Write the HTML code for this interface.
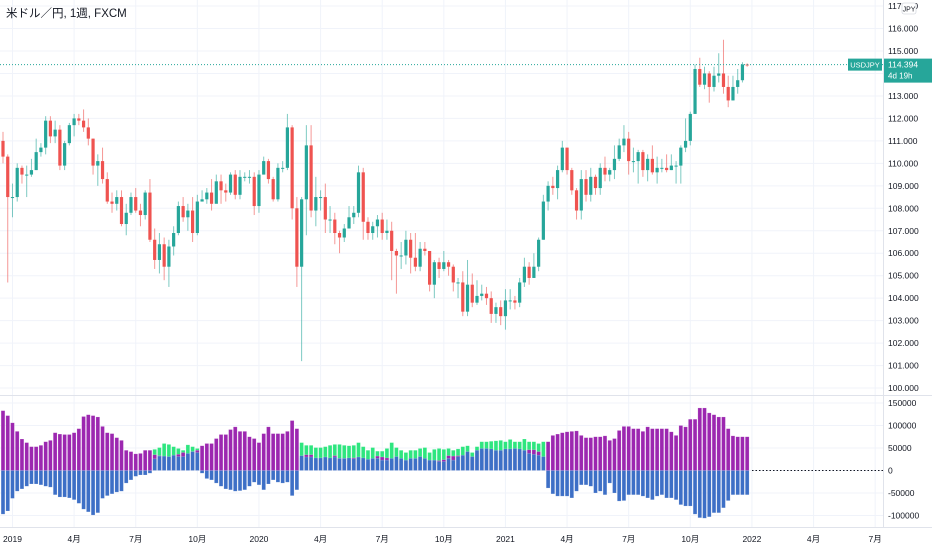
<!DOCTYPE html>
<html><head><meta charset="utf-8">
<style>
html,body{margin:0;padding:0;background:#fff;}
svg{display:block;font-family:"Liberation Sans","Noto Sans CJK JP",sans-serif;}
</style></head>
<body>
<svg id="chart" width="932" height="550" viewBox="0 0 932 550" xmlns="http://www.w3.org/2000/svg">
<rect width="932" height="550" fill="#fff"/>
<g id="grid"></g>
<g id="candles"></g>
<g id="hist"></g>
<g id="axes"></g>
<text x="6" y="17" font-size="11.5" fill="#131722">米ドル／円, 1週, FXCM</text>
</svg>
<script>
// ---- data ----
const firstOpen = 111.0;
const closes = [110.3,
108.5,108.5,109.8,109.5,109.5,109.7,110.5,110.7,111.9,111.2,111.5,109.9,110.9,111.7,112.0,111.9,111.6,111.1,109.9,110.1,109.3,108.3,108.2,108.5,107.3,107.8,108.5,107.9,107.7,108.7,106.6,105.7,106.4,105.4,106.3,106.9,108.1,107.6,107.9,106.9,108.3,108.4,108.7,108.2,109.2,108.8,108.7,109.5,108.6,109.4,109.4,109.4,108.1,
109.5,110.1,109.3,108.4,109.8,109.8,111.6,108.0,105.4,108.4,110.8,107.9,108.5,108.5,107.5,107.5,106.9,106.7,107.1,107.6,107.8,109.6,107.4,106.9,107.2,107.5,106.9,107.0,106.1,105.9,105.9,106.6,105.8,105.4,106.2,106.1,104.6,105.6,105.3,105.6,105.4,104.7,104.7,103.4,104.6,103.8,104.1,104.2,104.0,103.3,103.6,103.2,
103.9,103.9,103.8,104.7,105.4,104.9,105.4,106.6,108.3,109.0,108.9,109.7,110.7,109.7,108.8,107.9,109.3,108.6,109.4,108.9,109.8,109.5,109.7,110.2,110.8,111.1,110.1,110.1,110.5,109.7,110.2,109.6,109.8,109.8,109.7,109.9,109.9,110.7,111.0,112.2,114.2,113.5,114.0,113.4,113.9,114.0,113.4,112.8,113.4,113.7,114.4,114.39];
const highs = [111.4,
110.4,109.1,110.0,109.9,109.9,110.2,111.1,110.9,112.1,112.1,111.9,111.7,111.0,111.8,112.2,112.2,112.4,112.0,111.1,110.4,110.7,109.6,108.7,108.8,108.8,108.2,108.7,108.9,108.2,108.8,109.3,107.1,106.9,106.7,106.6,107.2,108.3,108.5,108.2,108.5,108.6,108.8,108.9,109.3,109.5,109.5,109.1,109.6,109.7,109.7,109.6,109.7,109.6,
109.7,110.3,110.2,109.4,110.0,110.1,112.2,111.7,108.5,108.5,111.7,111.7,109.4,108.8,109.1,108.1,107.8,107.0,107.3,108.1,108.1,109.9,109.8,107.6,107.4,107.7,107.8,107.5,107.4,106.2,106.5,107.0,106.9,106.9,106.5,106.5,106.1,105.7,105.8,106.1,105.7,105.5,104.9,105.2,105.7,105.1,104.8,104.6,104.5,104.3,103.8,103.9,
104.4,104.4,104.1,104.9,105.8,105.6,106.0,106.7,108.6,109.2,109.4,109.9,111.0,110.7,109.8,108.9,109.7,109.7,109.8,109.5,110.0,110.3,109.8,110.8,111.1,111.7,111.4,110.7,110.6,110.6,110.4,110.8,110.3,110.2,110.4,110.4,110.1,110.8,112.0,112.3,114.4,114.7,114.3,114.1,114.3,114.9,115.5,113.9,113.9,114.2,114.5,114.45];
const lows = [110.0,
104.7,107.6,108.3,109.1,108.5,109.4,109.7,110.3,110.4,110.9,110.9,109.7,109.7,110.8,111.2,111.7,111.4,110.8,109.5,109.0,109.1,108.2,107.8,107.9,107.2,106.8,107.7,107.8,107.2,107.5,106.5,105.3,105.1,104.8,104.5,105.9,106.8,107.4,107.0,106.5,106.8,108.3,108.2,107.9,108.3,108.2,108.3,108.6,108.4,108.4,109.2,109.1,107.7,
107.8,109.5,109.1,108.3,108.3,109.6,109.7,107.5,104.5,101.2,106.8,107.6,107.2,107.9,106.9,106.9,106.4,106.0,106.5,107.1,107.3,107.6,106.6,106.6,106.6,106.7,106.6,106.6,104.8,104.2,105.3,105.5,105.1,105.2,105.2,105.9,104.3,104.0,104.9,105.2,105.0,104.3,104.0,103.2,103.2,103.6,103.7,103.9,103.7,102.9,102.9,102.8,
102.6,103.5,103.5,103.6,104.5,104.6,104.9,105.2,106.6,107.9,108.6,108.4,109.6,109.5,108.6,107.5,107.5,108.3,108.3,108.6,108.6,109.2,109.2,109.3,110.1,110.5,109.5,109.6,109.1,109.4,109.2,109.5,109.1,109.6,109.6,109.7,109.1,109.1,110.5,110.8,112.2,113.4,113.3,112.7,113.2,113.6,113.1,112.5,112.8,113.1,113.6,114.3];
// histogram series (thousands)
const purpleVals = [133,122,106,87,70,62,53,53,56,64,67,84,81,80,80,84,93,120,124,122,119,98,84,82,73,67,45,42,37,38,45,45,
35,33,30,30,28,36,40,35,42,45,
55,60,60,71,80,80,91,97,87,87,75,71,62,82,97,82,82,82,87,111,93,
28,35,35,25,25,25,23,33,27,27,25,28,28,23,20,
24,32,30,28,22,26,22,20,22,22,26,22,20,20,22,24,33,32,33,30,37,26,40,44,44,43,40,40,43,43,44,43,42,46,46,42,30,
64,78,81,84,86,87,88,78,73,73,75,75,77,67,71,89,98,98,93,93,87,97,93,93,93,93,86,78,100,97,114,114,139,139,128,124,119,119,93,77,75,75,75];
const blueVals = [-97,-90,-62,-46,-41,-35,-30,-30,-32,-35,-37,-54,-59,-59,-61,-65,-73,-86,-92,-99,-94,-62,-56,-52,-48,-46,-28,-21,-13,-10,-10,-6,
26,32,32,31,34,31,31,38,42,40,
-6,-18,-21,-28,-35,-41,-43,-46,-45,-43,-35,-26,-32,-43,-30,-21,-26,-28,-26,-56,-43,
33,30,30,28,28,30,28,30,27,27,28,26,30,28,25,
27,27,23,23,27,31,27,23,27,27,31,27,23,23,20,20,27,23,31,34,42,31,45,49,49,48,45,45,48,48,49,48,45,38,36,34,31,
-39,-52,-57,-57,-57,-61,-46,-32,-32,-35,-50,-46,-54,-28,-50,-68,-67,-54,-54,-54,-57,-61,-65,-57,-54,-61,-61,-65,-76,-79,-79,-97,-105,-106,-103,-94,-94,-83,-67,-54,-54,-54,-54];
const greenVals = (function(){return null;})();
const greenA = [47,51,60,58,53,49,45,57,53,49];            // weeks 32-41
const greenB = [62,56,56,51,51,53,56,58,58,56,55,56,62,53,45, // weeks 63-77
51,43,43,49,62,51,45,40,45,45,49,51,40,47,49,47,49,45,48,53,55,40,53,64,64,65,66,67,64,69,64,64,70,64,64,60,64]; // 78-114
const priceTicks = [117,116,115,114,113,112,111,110,109,108,107,106,105,104,103,102,101,100];
const histTicks = [150000,100000,50000,0,-50000,-100000];
const timeLabels = ["2019","4月","7月","10月","2020","4月","7月","10月","2021","4月","7月","10月","2022","4月","7月"];
const timeWeeks = [2,15,28,41,54,67,80,93,106,119,132,145,158,171,184];
const lastPrice = 114.394;

// ---- scales ----
const X0 = 3, DX = 4.74, RIGHT = 883;
const xs = i => X0 + i*DX;
const yp = p => 51 + (115 - p)*22.47;
const yh = v => 470.5 - v*0.45;   // v in thousands
const NS = "http://www.w3.org/2000/svg";
function mk(tag, attrs, parent){const e=document.createElementNS(NS,tag);for(const k in attrs)e.setAttribute(k,attrs[k]);parent.appendChild(e);return e;}

const grid = document.getElementById('grid');
const axes = document.getElementById('axes');
// horizontal grid
priceTicks.forEach(p=>{
  const l=mk('line',{x1:0,x2:RIGHT,y1:yp(p),y2:yp(p),stroke:'#f0f3fa','stroke-width':1},grid);
  
  
  const t=mk('text',{x:888,y:yp(p)+3,'font-size':8.5,fill:'#131722'},axes);
  t.textContent=p.toFixed(3);
  
  
});
histTicks.forEach(v=>{
  const l=mk('line',{x1:0,x2:RIGHT,y1:yh(v/1000),y2:yh(v/1000),stroke:'#f0f3fa','stroke-width':1},grid);
  
  
  const t=mk('text',{x:888,y:yh(v/1000)+3,'font-size':8.5,fill:'#131722'},axes);
  t.textContent=String(v);
  
  
});
timeWeeks.forEach((w,k)=>{
  const x=xs(w);
  const l=mk('line',{x1:x,x2:x,y1:0,y2:527,stroke:'#f0f3fa','stroke-width':1},grid);
  
  
  const t=mk('text',{x:x,y:542,'font-size':8.5,fill:'#131722','text-anchor':'middle'},axes);
  t.textContent=timeLabels[k];
  
  
});
// pane borders
mk('line',{x1:0,x2:932,y1:395.5,y2:395.5,stroke:'#e0e3eb'},axes);
mk('line',{x1:RIGHT+0.5,x2:RIGHT+0.5,y1:0,y2:527,stroke:'#e0e3eb'},axes);
mk('line',{x1:0,x2:932,y1:527.5,y2:527.5,stroke:'#e0e3eb'},axes);

// candles
const cg = document.getElementById('candles');
closes.forEach((c,i)=>{
  const o = i===0 ? firstOpen : closes[i-1];
  const up = c>=o;
  const col = up ? '#26a69a' : '#ef5350';
  const x = xs(i);
  const w = mk('line',{x1:x,x2:x,y1:yp(highs[i]),y2:yp(lows[i]),stroke:col,'stroke-width':1,'stroke-opacity':0.6},cg);
  
  
  const top=yp(Math.max(o,c)), bot=yp(Math.min(o,c));
  const b = mk('rect',{x:x-1.6,y:top,width:3.2,height:Math.max(1,bot-top),fill:col},cg);
  
  
});

// histogram
const hg = document.getElementById('hist');
function bar(i,v,col,name){
  if(!v) return;
  const y1=yh(Math.max(v,0)), y2=yh(Math.min(v,0));
  const r=mk('rect',{x:xs(i)-1.9,y:y1,width:3.8,height:Math.max(0.5,y2-y1),fill:col,stroke:'rgba(255,255,255,0.35)','stroke-width':0.5},hg);
  
  
}
const greenFull = closes.map(()=>0);
greenA.forEach((v,k)=>greenFull[32+k]=v);
greenB.forEach((v,k)=>greenFull[63+k]=v);
closes.forEach((_,i)=>{
  bar(i,greenFull[i],'#2ee67f','green-bar');
  bar(i,purpleVals[i],'#9c27b0','purple-bar');
  bar(i,blueVals[i],'#3d6fc6','blue-bar');
});
// zero dotted line
mk('line',{x1:752,x2:RIGHT,y1:yh(0),y2:yh(0),stroke:'#131722','stroke-width':1,'stroke-dasharray':'1.5,2'},axes);

// last price line + labels
const ly = yp(lastPrice);
mk('line',{x1:0,x2:RIGHT,y1:ly,y2:ly,stroke:'#26a69a','stroke-width':1,'stroke-dasharray':'1,2'},axes);
const sym=mk('rect',{x:848,y:ly-6,width:34,height:12,fill:'#26a69a'},axes);


const st=mk('text',{x:865,y:ly+3,'font-size':7.5,fill:'#fff','text-anchor':'middle'},axes);st.textContent='USDJPY';
const pb=mk('rect',{x:884,y:ly-6,width:48,height:24,fill:'#26a69a'},axes);


const pt=mk('text',{x:888,y:ly+3,'font-size':8.5,fill:'#fff'},axes);pt.textContent='114.394';
const ct=mk('text',{x:888,y:ly+14,'font-size':8,fill:'#fff'},axes);ct.textContent='4d 19h';
// JPY badge
const jb=mk('rect',{x:902,y:3,width:14,height:11,fill:'#fff',stroke:'#c8ccd6','stroke-width':0.6,rx:2},axes);


const jt=mk('text',{x:909,y:11.5,'font-size':7,fill:'#131722','text-anchor':'middle'},axes);jt.textContent='JPY';
</script>
</body></html>
